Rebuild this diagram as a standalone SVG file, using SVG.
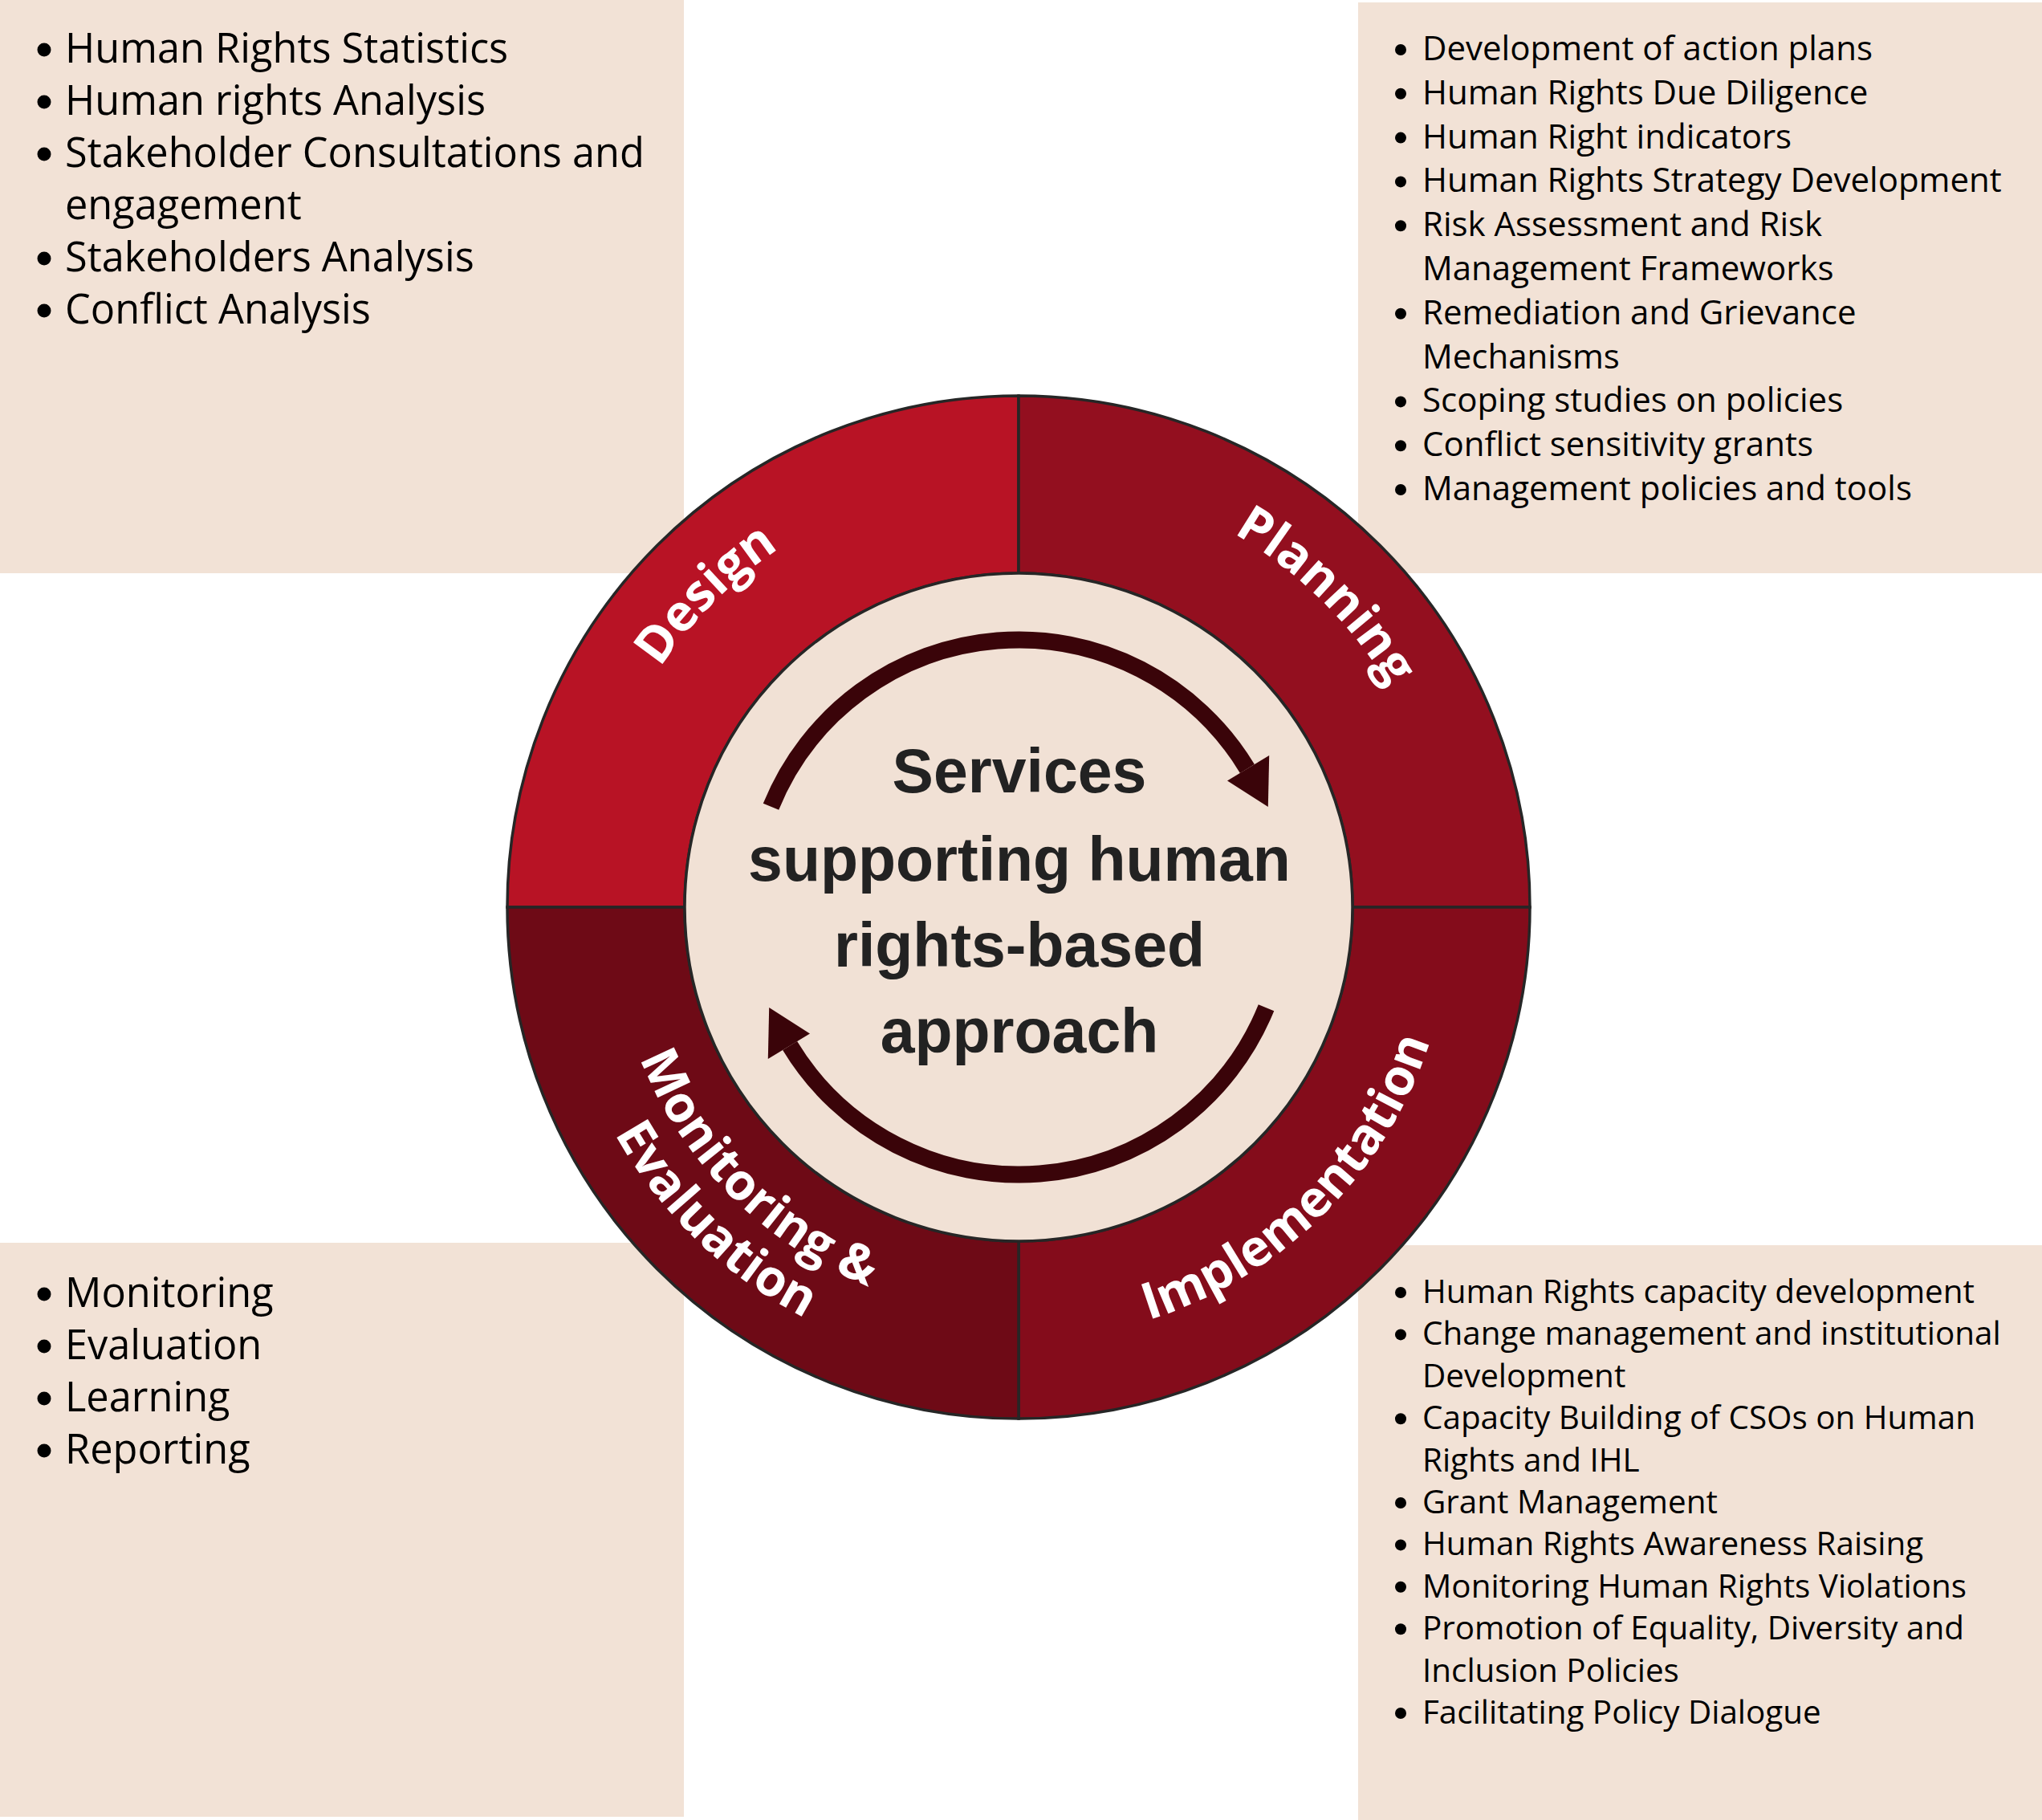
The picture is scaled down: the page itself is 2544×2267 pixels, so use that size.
<svg xmlns="http://www.w3.org/2000/svg" width="2544" height="2267" viewBox="0 0 2544 2267">
<defs>
<style>
.box{fill:#F2E2D6}
.seg{stroke:#262626;stroke-width:3.5}
.li{font-family:"Open Sans","Noto Sans","Liberation Sans",sans-serif;fill:#000}
.f50{font-size:50.5px}
.f42{font-size:42px}
.f40{font-size:40.4px}
.bul{fill:#000}
.lbl{font-family:"Open Sans","Noto Sans","Liberation Sans",sans-serif;font-weight:700;font-size:63px;fill:#fff}
.ctr{font-family:"Liberation Sans","Arial",sans-serif;font-weight:700;font-size:77px;fill:#222;text-anchor:middle}
.shaft{fill:none;stroke:#3A0409;stroke-width:21}
.head{fill:#3A0409}
</style>
<path id="p-design" d="M 750.3 1269.0 A 537 537 0 0 1 1408.0 611.3"/>
<path id="p-planning" d="M 1126.4 612.3 A 537 537 0 0 1 1788.7 1265.4"/>
<path id="p-impl" d="M 1126.8 1649.9 A 539 539 0 0 0 1790.4 993.2"/>
<path id="p-mon" d="M 778.1 999.4 A 508 508 0 0 0 1401.3 1620.5"/>
<path id="p-eval" d="M 709.4 989.5 A 577 577 0 0 0 1427.1 1684.9"/>
</defs>
<rect width="2544" height="2267" fill="#fff"/>

<g id="box-design">
<rect class="box" x="0" y="0" width="852" height="714"/>
<g class="bul"><circle cx="55" cy="62" r="8.5"/><circle cx="55" cy="127" r="8.5"/><circle cx="55" cy="192" r="8.5"/><circle cx="55" cy="322" r="8.5"/><circle cx="55" cy="387" r="8.5"/></g>
<text class="li f50" x="81" y="78">Human Rights Statistics</text>
<text class="li f50" x="81" y="143">Human rights Analysis</text>
<text class="li f50" x="81" y="208">Stakeholder Consultations and</text>
<text class="li f50" x="81" y="273">engagement</text>
<text class="li f50" x="81" y="338">Stakeholders Analysis</text>
<text class="li f50" x="81" y="403">Conflict Analysis</text>
</g>

<g id="box-planning">
<rect class="box" x="1692" y="3" width="852" height="711"/>
<g class="bul"><circle cx="1745" cy="62" r="7"/><circle cx="1745" cy="116.8" r="7"/><circle cx="1745" cy="171.6" r="7"/><circle cx="1745" cy="226.4" r="7"/><circle cx="1745" cy="281.2" r="7"/><circle cx="1745" cy="390.8" r="7"/><circle cx="1745" cy="500.4" r="7"/><circle cx="1745" cy="555.2" r="7"/><circle cx="1745" cy="610" r="7"/></g>
<text class="li f42" x="1772" y="75">Development of action plans</text>
<text class="li f42" x="1772" y="129.8">Human Rights Due Diligence</text>
<text class="li f42" x="1772" y="184.6">Human Right indicators</text>
<text class="li f42" x="1772" y="239.4">Human Rights Strategy Development</text>
<text class="li f42" x="1772" y="294.2">Risk Assessment and Risk</text>
<text class="li f42" x="1772" y="349">Management Frameworks</text>
<text class="li f42" x="1772" y="403.8">Remediation and Grievance</text>
<text class="li f42" x="1772" y="458.6">Mechanisms</text>
<text class="li f42" x="1772" y="513.4">Scoping studies on policies</text>
<text class="li f42" x="1772" y="568.2">Conflict sensitivity grants</text>
<text class="li f42" x="1772" y="623">Management policies and tools</text>
</g>

<g id="box-monitoring">
<rect class="box" x="0" y="1548" width="852" height="715"/>
<g class="bul"><circle cx="55" cy="1612" r="8.5"/><circle cx="55" cy="1677" r="8.5"/><circle cx="55" cy="1742" r="8.5"/><circle cx="55" cy="1807" r="8.5"/></g>
<text class="li f50" x="81" y="1628">Monitoring</text>
<text class="li f50" x="81" y="1693">Evaluation</text>
<text class="li f50" x="81" y="1758">Learning</text>
<text class="li f50" x="81" y="1823">Reporting</text>
</g>

<g id="box-implementation">
<rect class="box" x="1692" y="1551" width="852" height="716"/>
<g class="bul"><circle cx="1745" cy="1610" r="7"/><circle cx="1745" cy="1662.4" r="7"/><circle cx="1745" cy="1767.2" r="7"/><circle cx="1745" cy="1872" r="7"/><circle cx="1745" cy="1924.4" r="7"/><circle cx="1745" cy="1976.8" r="7"/><circle cx="1745" cy="2029.2" r="7"/><circle cx="1745" cy="2134" r="7"/></g>
<text class="li f40" x="1772" y="1623">Human Rights capacity development</text>
<text class="li f40" x="1772" y="1675.4">Change management and institutional</text>
<text class="li f40" x="1772" y="1727.8">Development</text>
<text class="li f40" x="1772" y="1780.2">Capacity Building of CSOs on Human</text>
<text class="li f40" x="1772" y="1832.6">Rights and IHL</text>
<text class="li f40" x="1772" y="1885">Grant Management</text>
<text class="li f40" x="1772" y="1937.4">Human Rights Awareness Raising</text>
<text class="li f40" x="1772" y="1989.8">Monitoring Human Rights Violations</text>
<text class="li f40" x="1772" y="2042.2">Promotion of Equality, Diversity and</text>
<text class="li f40" x="1772" y="2094.6">Inclusion Policies</text>
<text class="li f40" x="1772" y="2147">Facilitating Policy Dialogue</text>
</g>

<g id="seg-design">
<path class="seg" fill="#B81325" d="M 632 1130 A 637 637 0 0 1 1269 493 L 1269 714 A 416 416 0 0 0 853 1130 Z"/>
<text class="lbl"><textPath href="#p-design" startOffset="50%" text-anchor="middle">Design</textPath></text>
</g>
<g id="seg-planning">
<path class="seg" fill="#930F1F" d="M 1269 493 A 637 637 0 0 1 1906 1130 L 1685 1130 A 416 416 0 0 0 1269 714 Z"/>
<text class="lbl"><textPath href="#p-planning" startOffset="50%" text-anchor="middle">Planning</textPath></text>
</g>
<g id="seg-implementation">
<path class="seg" fill="#840C1B" d="M 1906 1130 A 637 637 0 0 1 1269 1767 L 1269 1546 A 416 416 0 0 0 1685 1130 Z"/>
<text class="lbl"><textPath href="#p-impl" startOffset="50%" text-anchor="middle">Implementation</textPath></text>
</g>
<g id="seg-monitoring">
<path class="seg" fill="#6E0A16" d="M 1269 1767 A 637 637 0 0 1 632 1130 L 853 1130 A 416 416 0 0 0 1269 1546 Z"/>
<text class="lbl"><textPath href="#p-mon" startOffset="50%" text-anchor="middle">Monitoring &amp;</textPath></text>
<text class="lbl"><textPath href="#p-eval" startOffset="50%" text-anchor="middle">Evaluation</textPath></text>
</g>

<g id="center">
<circle class="seg" cx="1269" cy="1130" r="416" fill="#F1E1D5"/>
<text class="ctr" x="1270" y="987">Services</text>
<text class="ctr" x="1270" y="1097">supporting human</text>
<text class="ctr" x="1270" y="1204">rights-based</text>
<text class="ctr" x="1270" y="1311">approach</text>
</g>

<g id="connectors">
<g id="arrow-top">
<path class="shaft" d="M 960.5 1004.7 A 333 333 0 0 1 1553.9 957.5"/>
<polygon class="head" points="1529.0,972.5 1581.2,940.9 1579.8,1005.0"/>
</g>
<g id="arrow-bottom" transform="rotate(180 1269 1130)">
<path class="shaft" d="M 960.5 1004.7 A 333 333 0 0 1 1553.9 957.5"/>
<polygon class="head" points="1529.0,972.5 1581.2,940.9 1579.8,1005.0"/>
</g>
</g>
</svg>
